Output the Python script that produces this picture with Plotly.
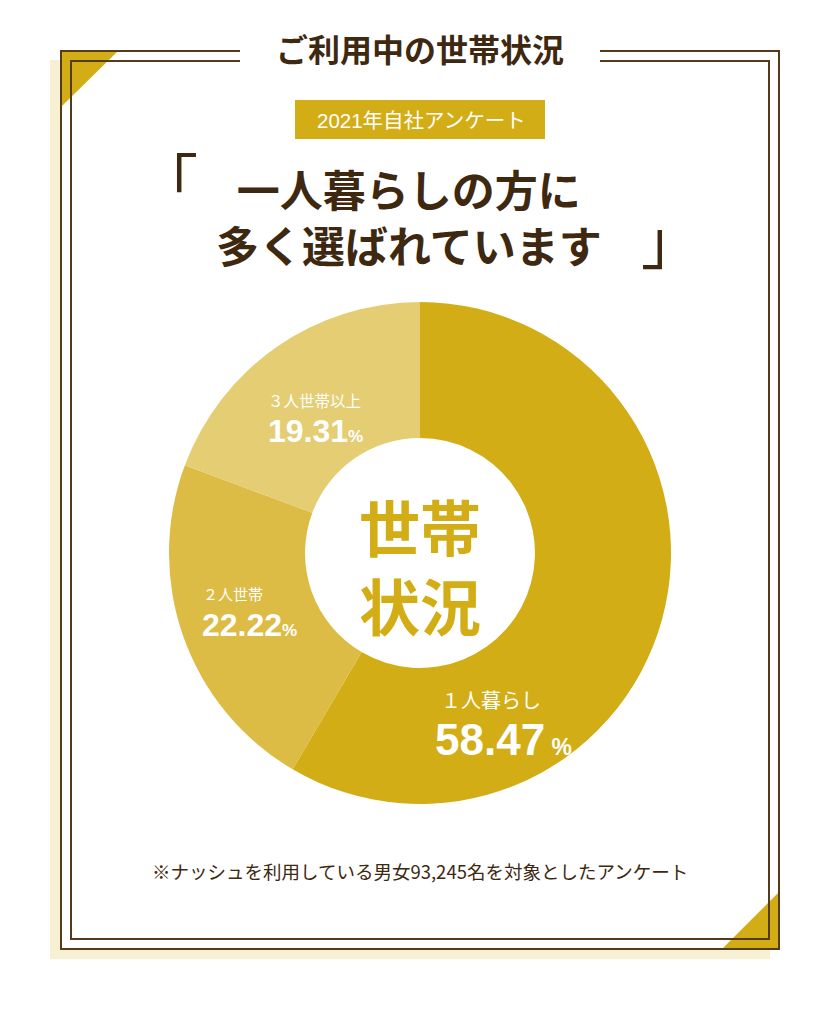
import plotly.graph_objects as go

# ---- data ----
categories = ["1人暮らし", "2人世帯", "3人世帯以上"]
shares = [58.47, 22.22, 19.31]
slice_colors = ["#d3ad15", "#dcbc45", "#e5cd74"]
label_names = ["１人暮らし", "２人世帯", "３人世帯以上"]
label_values = ["58.47", "22.22", "19.31"]

title_text = "ご利用中の世帯状況"
badge_text = "2021年自社アンケート"
headline_1 = "一人暮らしの方に"
headline_2 = "多く選ばれています"
center_1 = "世帯"
center_2 = "状況"
footnote = "※ナッシュを利用している男女93,245名を対象としたアンケート"

W, H = 840, 1022
BROWN = "#553b1b"
TXT = "#3e2810"
GOLD = "#d3ad15"
JP = "Noto Sans CJK JP"
NUM = "Liberation Sans, Arial, Noto Sans CJK JP"

# donut geometry (pixels)
cx, cy, r = 420, 553, 251
hole = 0.458

fig = go.Figure()
fig.add_trace(go.Pie(
    labels=categories, values=shares, sort=False, direction="clockwise",
    rotation=0, hole=hole, marker=dict(colors=slice_colors, line=dict(width=0)),
    textinfo="none", hoverinfo="skip", showlegend=False,
    domain=dict(x=[(cx - r) / W, (cx + r) / W], y=[1 - (cy + r) / H, 1 - (cy - r) / H]),
))
# invisible pixel-space axes for layout decorations
fig.add_trace(go.Scatter(x=[0, W], y=[0, H], mode="markers", marker=dict(opacity=0),
                         hoverinfo="skip", showlegend=False))

shapes = [
    dict(type="rect", x0=50, y0=60, x1=770, y1=959, fillcolor="#f7f0d3", line=dict(width=0)),
    dict(type="rect", x0=61, y0=51, x1=779, y1=949, fillcolor="white", line=dict(width=0)),
    dict(type="path", path="M61,51 L118,51 L61,107 Z", fillcolor=GOLD, line=dict(width=0)),
    dict(type="path", path="M779,892 L779,949 L722,949 Z", fillcolor=GOLD, line=dict(width=0)),
    dict(type="path", path="M240,51 L61,51 L61,949 L779,949 L779,51 L600,51",
         line=dict(color=BROWN, width=2)),
    dict(type="path", path="M240,61 L71,61 L71,939 L769,939 L769,61 L600,61",
         line=dict(color=BROWN, width=2)),
    dict(type="rect", x0=295, y0=100, x1=545, y1=139, fillcolor=GOLD, line=dict(width=0)),
]
for s in shapes:
    s.update(xref="x", yref="y", layer="below")

def ann(text, x, y, size, color, family=JP, bold=False, xanchor="center"):
    t = f"<b>{text}</b>" if bold else text
    return dict(text=t, x=x, y=y, xref="x", yref="y", showarrow=False,
                xanchor=xanchor, yanchor="middle", align="center",
                font=dict(size=size, color=color, family=family))

annotations = [
    ann(title_text, 420, 48, 32, TXT, bold=True),
    ann(badge_text, 421, 120, 20.5, "white", family=NUM),
    ann("「", 168, 177, 60, TXT),
    ann(headline_1 + "<br>" + headline_2, 409, 216, 43, TXT, bold=True),
    ann("」", 671, 237, 60, TXT),
    ann(center_1 + "<br>" + center_2, 420, 565, 61, GOLD, bold=True),
    # slice labels
    ann(label_names[0], 491, 699, 20, "white"),
    ann(label_values[0] + "<span style='font-size:23px'> %</span>", 503, 739, 44, "white", family=NUM, bold=True),
    ann(label_names[1], 233, 593, 15, "white"),
    ann(label_values[1] + "<span style='font-size:17px'>%</span>", 249, 625, 32, "white", family=NUM, bold=True),
    ann(label_names[2], 314, 400, 15.5, "white"),
    ann(label_values[2] + "<span style='font-size:17px'>%</span>", 315, 431, 32, "white", family=NUM, bold=True),
    ann(footnote, 420, 871, 18.5, TXT),
]

fig.update_layout(
    width=W, height=H, margin=dict(l=0, r=0, t=0, b=0),
    paper_bgcolor="white", plot_bgcolor="rgba(0,0,0,0)",
    xaxis=dict(range=[0, W], visible=False, fixedrange=True),
    yaxis=dict(range=[H, 0], visible=False, fixedrange=True),
    shapes=shapes, annotations=annotations,
)
fig.write_html("out.html", config={"displayModeBar": False})
